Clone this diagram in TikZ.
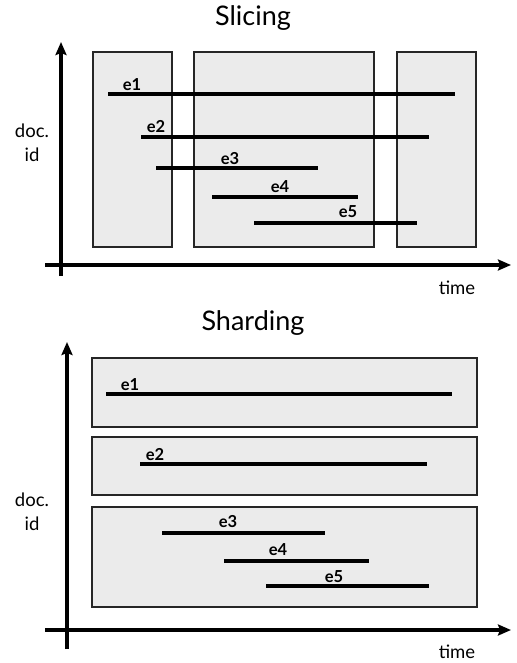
\documentclass[tikz,border=0pt]{standalone}
\usepackage{fontspec}
\setmainfont{Lato}
\usepackage{tikz}
\usetikzlibrary{arrows.meta}

\begin{document}
\begin{tikzpicture}
		[x=1pt,y=-1pt,line cap=butt,
		%Styles
		axis/.style={line width=3.3pt,-{Stealth[length=13pt,width=11pt,inset=2pt]}},
		event/.style={line width=3.3pt},
		slot box/.style={draw=black!85,line width=2pt,fill=black!8},
		title text/.style={font=\fontsize{27}{29}\selectfont},
		axis text/.style={font=\fontsize{18.5}{20}\selectfont,inner sep=0pt},
		event text/.style={font=\fontsize{16.5}{18}\selectfont\bfseries,inner sep=0pt}
		]
		\useasboundingbox (0,0) rectangle (516,663);
		
		%Slicing
		\node[title text] (slicing) at (253,18) {Slicing};
		
		\draw[slot box] (93,52) rectangle (172,247);
		\draw[slot box] (194,52) rectangle (374,247);
		\draw[slot box] (397,52) rectangle (476,247);
		
		\coordinate (s1a) at (108,94);  \coordinate (s1b) at (455,94);
		\coordinate (s2a) at (141,137); \coordinate (s2b) at (429,137);
		\coordinate (s3a) at (156,168); \coordinate (s3b) at (318,168);
		\coordinate (s4a) at (212,197); \coordinate (s4b) at (358,197);
		\coordinate (s5a) at (254,223); \coordinate (s5b) at (417,223);
		
		\draw[event] (s1a) -- (s1b);
		\draw[event] (s2a) -- (s2b);
		\draw[event] (s3a) -- (s3b);
		\draw[event] (s4a) -- (s4b);
		\draw[event] (s5a) -- (s5b);
		
		\node[event text] (se1) at (132,85) {e1};
		\node[event text] (se2) at (156,127) {e2};
		\node[event text] (se3) at (230,159) {e3};
		\node[event text] (se4) at (280,187) {e4};
		\node[event text] (se5) at (348,212) {e5};
		
		\coordinate (sy0) at (61,276);  \coordinate (sy1) at (61,42);
		\coordinate (sx0) at (45,265);  \coordinate (sx1) at (511,265);
		\draw[axis] (sy0) -- (sy1);
		\draw[axis] (sx0) -- (sx1);
		
		\node[axis text] (sdoc) at (32,131) {doc.};
		\node[axis text] (sid) at (32,155) {id};
		\node[axis text] (stime) at (457,288) {time};
		
		%Sharding
		\node[title text] (sharding) at (253,323) {Sharding};
		
		\draw[slot box] (92,358) rectangle (477,427);
		\draw[slot box] (92,437) rectangle (477,495);
		\draw[slot box] (92,507) rectangle (477,607);
		
		\coordinate (h1a) at (106,394); \coordinate (h1b) at (452,394);
		\coordinate (h2a) at (140,464); \coordinate (h2b) at (427,464);
		\coordinate (h3a) at (162,533); \coordinate (h3b) at (325,533);
		\coordinate (h4a) at (224,561); \coordinate (h4b) at (369,561);
		\coordinate (h5a) at (266,586); \coordinate (h5b) at (429,586);
		
		\draw[event] (h1a) -- (h1b);
		\draw[event] (h2a) -- (h2b);
		\draw[event] (h3a) -- (h3b);
		\draw[event] (h4a) -- (h4b);
		\draw[event] (h5a) -- (h5b);
		
		\node[event text] (he1) at (130,385) {e1};
		\node[event text] (he2) at (155,455) {e2};
		\node[event text] (he3) at (228,522) {e3};
		\node[event text] (he4) at (278,550) {e4};
		\node[event text] (he5) at (334,577) {e5};
		
		\coordinate (hy0) at (67,649);  \coordinate (hy1) at (67,342);
		\coordinate (hx0) at (45,630);  \coordinate (hx1) at (511,630);
		\draw[axis] (hy0) -- (hy1);
		\draw[axis] (hx0) -- (hx1);
		
		\node[axis text] (hdoc) at (32,500) {doc.};
		\node[axis text] (hid) at (32,524) {id};
		\node[axis text] (htime) at (457,652) {time};
	\end{tikzpicture}
\end{document}
